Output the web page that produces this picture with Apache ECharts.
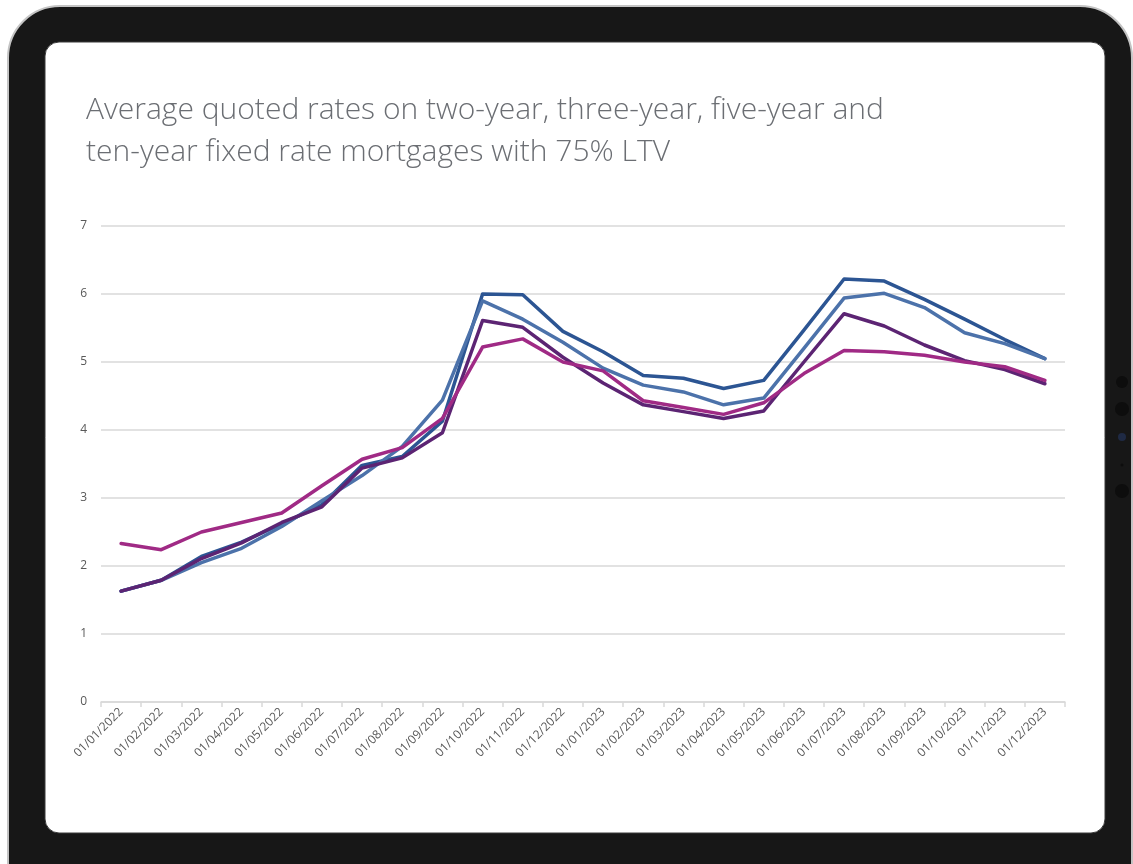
<!DOCTYPE html>
<html>
<head>
<meta charset="utf-8">
<title>Average quoted fixed mortgage rates, 75% LTV</title>
<script src="https://cdn.jsdelivr.net/npm/echarts@6/dist/echarts.min.js"></script>
<style>
  html, body { margin: 0; padding: 0; background: #ffffff; }
  #chart { width: 1133px; height: 864px; }
</style>
</head>
<body>
<div id="chart"></div>
<script>
// Month labels (first of each month)
const months = [
  '01/01/2022', '01/02/2022', '01/03/2022', '01/04/2022', '01/05/2022', '01/06/2022',
  '01/07/2022', '01/08/2022', '01/09/2022', '01/10/2022', '01/11/2022', '01/12/2022',
  '01/01/2023', '01/02/2023', '01/03/2023', '01/04/2023', '01/05/2023', '01/06/2023',
  '01/07/2023', '01/08/2023', '01/09/2023', '01/10/2023', '01/11/2023', '01/12/2023'
];

// Average quoted rates (%) by fixed term
const twoYear = [1.63, 1.79, 2.14, 2.35, 2.62, 2.90, 3.48, 3.61, 4.13, 6.00, 5.99, 5.45,
                 5.15, 4.80, 4.76, 4.61, 4.73, 5.47, 6.22, 6.19, 5.92, 5.63, 5.33, 5.05];
const threeYear = [1.63, 1.79, 2.05, 2.26, 2.58, 2.96, 3.33, 3.76, 4.44, 5.90, 5.63, 5.29,
                   4.91, 4.66, 4.56, 4.37, 4.47, 5.20, 5.94, 6.01, 5.80, 5.43, 5.27, 5.05];
const fiveYear = [1.63, 1.79, 2.11, 2.34, 2.64, 2.87, 3.44, 3.59, 3.96, 5.61, 5.51, 5.07,
                  4.69, 4.37, 4.27, 4.17, 4.28, 5.00, 5.71, 5.53, 5.25, 5.02, 4.89, 4.68];
const tenYear = [2.33, 2.24, 2.50, 2.64, 2.78, 3.18, 3.57, 3.74, 4.17, 5.22, 5.34, 5.00,
                 4.87, 4.43, 4.33, 4.23, 4.40, 4.83, 5.17, 5.15, 5.10, 5.00, 4.93, 4.73];

const yTicks = { min: 0, max: 7, interval: 1 };

const titleText = 'Average quoted rates on two-year, three-year, five-year and\nten-year fixed rate mortgages with 75% LTV';

const chart = echarts.init(document.getElementById('chart'), null, { renderer: 'canvas' });

function lineSeries(name, data, color) {
  return {
    name: name,
    type: 'line',
    data: data,
    showSymbol: false,
    symbol: 'none',
    smooth: false,
    lineStyle: { color: color, width: 3.5, join: 'round', cap: 'round' },
    itemStyle: { color: color },
    z: 3
  };
}

chart.setOption({
  animation: false,
  backgroundColor: '#ffffff',
  // Tablet bezel and screen drawn behind the chart
  graphic: [
    {
      type: 'rect', z: -10, silent: true,
      shape: { x: 8, y: 6, width: 1124, height: 920, r: 52 },
      style: { fill: '#171717', stroke: '#c4c4c4', lineWidth: 2 }
    },
    {
      type: 'rect', z: -9, silent: true,
      shape: { x: 45, y: 42, width: 1060, height: 791, r: 14 },
      style: { fill: '#ffffff', stroke: '#3a3a3a', lineWidth: 1 }
    },
    { type: 'circle', z: -8, silent: true, shape: { cx: 1122, cy: 382, r: 6 }, style: { fill: '#0d0d0d' } },
    { type: 'circle', z: -8, silent: true, shape: { cx: 1122, cy: 409, r: 7 }, style: { fill: '#0d0d0d' } },
    { type: 'circle', z: -8, silent: true, shape: { cx: 1122, cy: 437, r: 4 }, style: { fill: '#1f2a44' } },
    { type: 'circle', z: -8, silent: true, shape: { cx: 1122, cy: 465, r: 1.5 }, style: { fill: '#0d0d0d' } },
    { type: 'circle', z: -8, silent: true, shape: { cx: 1122, cy: 491, r: 7 }, style: { fill: '#0d0d0d' } }
  ],
  title: {
    text: titleText,
    left: 86,
    top: 89,
    padding: 0,
    textStyle: {
      fontFamily: 'Open Sans',
      fontWeight: 300,
      fontSize: 30,
      lineHeight: 42,
      color: '#6b6e73'
    }
  },
  grid: { left: 101, right: 68, top: 226, bottom: 162, containLabel: false },
  xAxis: {
    type: 'category',
    data: months,
    boundaryGap: true,
    axisLine: { show: true, lineStyle: { color: '#d9d9d9', width: 1.5 } },
    axisTick: { show: true, length: 5, lineStyle: { color: '#d9d9d9', width: 1.5 } },
    axisLabel: {
      interval: 0,
      rotate: 45,
      margin: 8,
      fontFamily: 'Open Sans',
      fontSize: 12,
      color: '#595959'
    },
    splitLine: { show: false }
  },
  yAxis: {
    type: 'value',
    min: yTicks.min,
    max: yTicks.max,
    interval: yTicks.interval,
    axisLine: { show: false },
    axisTick: { show: false },
    axisLabel: {
      margin: 14,
      fontFamily: 'Open Sans',
      fontSize: 12,
      color: '#595959'
    },
    splitLine: { lineStyle: { color: '#d9d9d9', width: 1.5 } }
  },
  series: [
    lineSeries('Two-year fixed', twoYear, '#2c5593'),
    lineSeries('Three-year fixed', threeYear, '#4c72aa'),
    lineSeries('Five-year fixed', fiveYear, '#5c2473'),
    lineSeries('Ten-year fixed', tenYear, '#a02a85')
  ]
});
</script>
</body>
</html>
